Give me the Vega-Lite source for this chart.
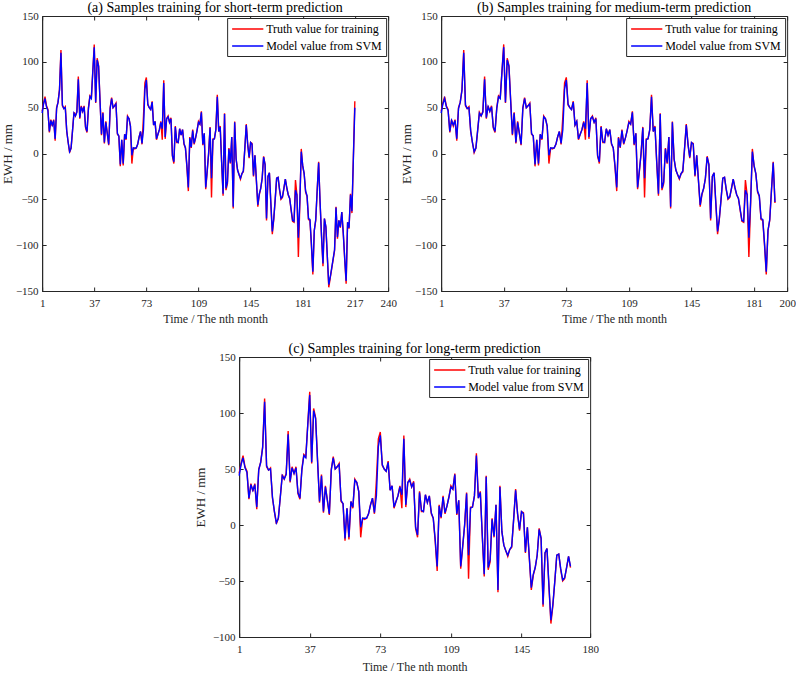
{
"$schema":"https://vega.github.io/schema/vega-lite/v6.json",
"background":"white",
"padding":{"left":0,"top":0,"right":0,"bottom":0},
"data":{"values":[
{"month":1,"truth":46,"model":44},{"month":2,"truth":55,"model":54},{"month":3,"truth":62,"model":60},{"month":4,"truth":52,"model":51},{"month":5,"truth":48,"model":47},{"month":6,"truth":23,"model":24},{"month":7,"truth":37,"model":36},{"month":8,"truth":30,"model":31},{"month":9,"truth":37,"model":36},{"month":10,"truth":14,"model":16},
{"month":11,"truth":50,"model":49},{"month":12,"truth":56,"model":56},{"month":13,"truth":70,"model":69},{"month":14,"truth":113,"model":110},{"month":15,"truth":52,"model":53},{"month":16,"truth":49,"model":49},{"month":17,"truth":51,"model":50},{"month":18,"truth":24,"model":25},{"month":19,"truth":12,"model":12},{"month":20,"truth":1,"model":2},
{"month":21,"truth":6,"model":6},{"month":22,"truth":25,"model":25},{"month":23,"truth":45,"model":44},{"month":24,"truth":41,"model":41},{"month":25,"truth":46,"model":45},{"month":26,"truth":84,"model":81},{"month":27,"truth":38,"model":39},{"month":28,"truth":52,"model":51},{"month":29,"truth":46,"model":46},{"month":30,"truth":52,"model":51},
{"month":31,"truth":28,"model":29},{"month":32,"truth":23,"model":24},{"month":33,"truth":50,"model":49},{"month":34,"truth":63,"model":62},{"month":35,"truth":61,"model":60},{"month":36,"truth":90,"model":89},{"month":37,"truth":119,"model":116},{"month":38,"truth":55,"model":56},{"month":39,"truth":104,"model":102},{"month":40,"truth":96,"model":95},
{"month":41,"truth":58,"model":57},{"month":42,"truth":20,"model":21},{"month":43,"truth":45,"model":44},{"month":44,"truth":11,"model":12},{"month":45,"truth":35,"model":34},{"month":46,"truth":22,"model":22},{"month":47,"truth":9,"model":10},{"month":48,"truth":50,"model":49},{"month":49,"truth":61,"model":60},{"month":50,"truth":50,"model":50},
{"month":51,"truth":52,"model":52},{"month":52,"truth":55,"model":54},{"month":53,"truth":21,"model":22},{"month":54,"truth":19,"model":19},{"month":55,"truth":-14,"model":-12},{"month":56,"truth":15,"model":15},{"month":57,"truth":-13,"model":-11},{"month":58,"truth":21,"model":21},{"month":59,"truth":15,"model":16},{"month":60,"truth":41,"model":40},
{"month":61,"truth":38,"model":38},{"month":62,"truth":30,"model":30},{"month":63,"truth":-11,"model":-2},{"month":64,"truth":6,"model":6},{"month":65,"truth":5,"model":6},{"month":66,"truth":6,"model":6},{"month":67,"truth":10,"model":10},{"month":68,"truth":18,"model":18},{"month":69,"truth":24,"model":24},{"month":70,"truth":10,"model":11},
{"month":71,"truth":40,"model":26},{"month":72,"truth":77,"model":70},{"month":73,"truth":83,"model":80},{"month":74,"truth":53,"model":54},{"month":75,"truth":50,"model":50},{"month":76,"truth":48,"model":48},{"month":77,"truth":57,"model":56},{"month":78,"truth":31,"model":31},{"month":79,"truth":35,"model":35},{"month":80,"truth":15,"model":16},
{"month":81,"truth":21,"model":21},{"month":82,"truth":26,"model":26},{"month":83,"truth":35,"model":34},{"month":84,"truth":15,"model":27},{"month":85,"truth":80,"model":77},{"month":86,"truth":16,"model":18},{"month":87,"truth":38,"model":38},{"month":88,"truth":41,"model":40},{"month":89,"truth":34,"model":34},{"month":90,"truth":39,"model":38},
{"month":91,"truth":-3,"model":-2},{"month":92,"truth":-11,"model":-9},{"month":93,"truth":30,"model":29},{"month":94,"truth":12,"model":13},{"month":95,"truth":12,"model":12},{"month":96,"truth":27,"model":27},{"month":97,"truth":20,"model":20},{"month":98,"truth":26,"model":26},{"month":99,"truth":10,"model":11},{"month":100,"truth":6,"model":6},
{"month":101,"truth":-15,"model":-13},{"month":102,"truth":-41,"model":-37},{"month":103,"truth":18,"model":17},{"month":104,"truth":6,"model":7},{"month":105,"truth":26,"model":25},{"month":106,"truth":10,"model":11},{"month":107,"truth":17,"model":17},{"month":108,"truth":25,"model":25},{"month":109,"truth":35,"model":34},{"month":110,"truth":32,"model":32},
{"month":111,"truth":46,"model":45},{"month":112,"truth":9,"model":10},{"month":113,"truth":22,"model":22},{"month":114,"truth":-39,"model":-37},{"month":115,"truth":-20,"model":-19},{"month":116,"truth":0,"model":0},{"month":117,"truth":29,"model":28},{"month":118,"truth":-48,"model":-27},{"month":119,"truth":16,"model":15},{"month":120,"truth":16,"model":16},
{"month":121,"truth":26,"model":26},{"month":122,"truth":64,"model":62},{"month":123,"truth":24,"model":24},{"month":124,"truth":30,"model":29},{"month":125,"truth":-10,"model":-9},{"month":126,"truth":-46,"model":-44},{"month":127,"truth":44,"model":43},{"month":128,"truth":-40,"model":-38},{"month":129,"truth":-33,"model":-31},{"month":130,"truth":6,"model":5},
{"month":131,"truth":-11,"model":-10},{"month":132,"truth":18,"model":18},{"month":133,"truth":-60,"model":-58},{"month":134,"truth":35,"model":34},{"month":135,"truth":-6,"model":-6},{"month":136,"truth":-18,"model":-18},{"month":137,"truth":-23,"model":-23},{"month":138,"truth":-28,"model":-27},{"month":139,"truth":-22,"model":-22},{"month":140,"truth":-20,"model":-19},
{"month":141,"truth":5,"model":5},{"month":142,"truth":32,"model":31},{"month":143,"truth":10,"model":10},{"month":144,"truth":-5,"model":-4},{"month":145,"truth":12,"model":12},{"month":146,"truth":11,"model":10},{"month":147,"truth":-25,"model":-24},{"month":148,"truth":-2,"model":-2},{"month":149,"truth":-30,"model":-29},{"month":150,"truth":-58,"model":-56},
{"month":151,"truth":-45,"model":-44},{"month":152,"truth":-38,"model":-38},{"month":153,"truth":-27,"model":-27},{"month":154,"truth":-3,"model":-4},{"month":155,"truth":-12,"model":-12},{"month":156,"truth":-73,"model":-71},{"month":157,"truth":-25,"model":-25},{"month":158,"truth":-21,"model":-21},{"month":159,"truth":-55,"model":-54},{"month":160,"truth":-88,"model":-85},
{"month":161,"truth":-72,"model":-71},{"month":162,"truth":-50,"model":-50},{"month":163,"truth":-27,"model":-27},{"month":164,"truth":-26,"model":-26},{"month":165,"truth":-40,"model":-39},{"month":166,"truth":-50,"model":-49},{"month":167,"truth":-48,"model":-47},{"month":168,"truth":-38,"model":-38},{"month":169,"truth":-28,"model":-28},{"month":170,"truth":-38,"model":-37},
{"month":171,"truth":-45,"model":-45},{"month":172,"truth":-49,"model":-49},{"month":173,"truth":-62,"model":-61},{"month":174,"truth":-74,"model":-73},{"month":175,"truth":-75,"model":-74},{"month":176,"truth":-29,"model":-40},{"month":177,"truth":-45,"model":-45},{"month":178,"truth":-113,"model":-92},{"month":179,"truth":-55,"model":-53},{"month":180,"truth":5,"model":2},
{"month":181,"truth":-14,"model":-13},{"month":182,"truth":-22,"model":-22},{"month":183,"truth":-42,"model":-41},{"month":184,"truth":-47,"model":-46},{"month":185,"truth":-72,"model":-71},{"month":186,"truth":-73,"model":-72},{"month":187,"truth":-100,"model":-98},{"month":188,"truth":-132,"model":-129},{"month":189,"truth":-84,"model":-84},{"month":190,"truth":-73,"model":-72},
{"month":191,"truth":-40,"model":-40},{"month":192,"truth":-9,"model":-10},{"month":193,"truth":-54,"model":-53},{"month":194,"truth":-90,"model":-90},{"month":195,"truth":-123,"model":-120},{"month":196,"truth":-71,"model":-71},{"month":197,"truth":-80,"model":-80},{"month":198,"truth":-113,"model":-112},{"month":199,"truth":-146,"model":-143},{"month":200,"truth":-136,"model":-135},
{"month":201,"truth":-126,"model":-125},{"month":202,"truth":-116,"model":-115},{"month":203,"truth":-106,"model":-105},{"month":204,"truth":-58,"model":-59},{"month":205,"truth":-93,"model":-91},{"month":206,"truth":-73,"model":-73},{"month":207,"truth":-81,"model":-80},{"month":208,"truth":-64,"model":-64},{"month":209,"truth":-87,"model":-86},{"month":210,"truth":-115,"model":-114},
{"month":211,"truth":-142,"model":-139},{"month":212,"truth":-75,"model":-75},{"month":213,"truth":-82,"model":-81},{"month":214,"truth":-44,"model":-45},{"month":215,"truth":-65,"model":-63},{"month":216,"truth":-4,"model":-5},{"month":217,"truth":57,"model":50}
]},
"vconcat":[
{"hconcat":[
{"width":346,"height":275,
 "title":{"text":"(a) Samples training for short-term prediction"},
 "transform":[{"filter":"datum.month <= 217"}],
 "layer":[
  {"mark":{"type":"line","strokeWidth":1.4},
   "encoding":{
    "x":{"field":"month","type":"quantitative","scale":{"domain":[1,240],"nice":false,"zero":false},"axis":{"values":[1,37,73,109,145,181,217,240],"title":"Time / The nth month"}},
    "y":{"field":"truth","type":"quantitative","scale":{"domain":[-150,150],"nice":false,"zero":false},"axis":{"values":[-150,-100,-50,0,50,100,150],"title":"EWH / mm"}},
    "color":{"datum":"Truth value for training","scale":{"domain":["Truth value for training","Model value from SVM"],"range":["#ff0000","#0000ff"]},"legend":{"title":null}}}},
  {"mark":{"type":"line","strokeWidth":1.4},
   "encoding":{
    "x":{"field":"month","type":"quantitative","axis":{"orient":"top","values":[1,37,73,109,145,181,217,240],"labels":false,"domain":false,"title":null}},
    "y":{"field":"model","type":"quantitative","axis":{"orient":"right","values":[-150,-100,-50,0,50,100,150],"labels":false,"domain":false,"title":null}},
    "color":{"datum":"Model value from SVM"}}}
 ],
 "resolve":{"axis":{"x":"independent","y":"independent"}}
},
{"width":346,"height":275,
 "title":{"text":"(b) Samples training for medium-term prediction"},
 "transform":[{"filter":"datum.month <= 193"}],
 "layer":[
  {"mark":{"type":"line","strokeWidth":1.4},
   "encoding":{
    "x":{"field":"month","type":"quantitative","scale":{"domain":[1,200],"nice":false,"zero":false},"axis":{"values":[1,37,73,109,145,181,200],"title":"Time / The nth month"}},
    "y":{"field":"truth","type":"quantitative","scale":{"domain":[-150,150],"nice":false,"zero":false},"axis":{"values":[-150,-100,-50,0,50,100,150],"title":"EWH / mm"}},
    "color":{"datum":"Truth value for training","scale":{"domain":["Truth value for training","Model value from SVM"],"range":["#ff0000","#0000ff"]},"legend":{"title":null}}}},
  {"mark":{"type":"line","strokeWidth":1.4},
   "encoding":{
    "x":{"field":"month","type":"quantitative","axis":{"orient":"top","values":[1,37,73,109,145,181,200],"labels":false,"domain":false,"title":null}},
    "y":{"field":"model","type":"quantitative","axis":{"orient":"right","values":[-150,-100,-50,0,50,100,150],"labels":false,"domain":false,"title":null}},
    "color":{"datum":"Model value from SVM"}}}
 ],
 "resolve":{"axis":{"x":"independent","y":"independent"}}
}
],
"spacing":2,
"resolve":{"scale":{"color":"independent"}}
},
{"width":351,"height":280,
 "title":{"text":"(c) Samples training for long-term prediction"},
 "transform":[{"filter":"datum.month <= 170"}],
 "layer":[
  {"mark":{"type":"line","strokeWidth":1.4},
   "encoding":{
    "x":{"field":"month","type":"quantitative","scale":{"domain":[1,180],"nice":false,"zero":false},"axis":{"values":[1,37,73,109,145,180],"title":"Time / The nth month","titlePadding":7}},
    "y":{"field":"truth","type":"quantitative","scale":{"domain":[-100,150],"nice":false,"zero":false},"axis":{"values":[-100,-50,0,50,100,150],"title":"EWH / mm","titlePadding":5}},
    "color":{"datum":"Truth value for training","scale":{"domain":["Truth value for training","Model value from SVM"],"range":["#ff0000","#0000ff"]},"legend":{"title":null}}}},
  {"mark":{"type":"line","strokeWidth":1.4},
   "encoding":{
    "x":{"field":"month","type":"quantitative","axis":{"orient":"top","values":[1,37,73,109,145,180],"labels":false,"domain":false,"title":null}},
    "y":{"field":"model","type":"quantitative","axis":{"orient":"right","values":[-100,-50,0,50,100,150],"labels":false,"domain":false,"title":null}},
    "color":{"datum":"Model value from SVM"}}}
 ],
 "resolve":{"axis":{"x":"independent","y":"independent"}}
}
],
"spacing":16,
"center":true,
"resolve":{"scale":{"color":"independent"}},
"config":{
 "view":{"stroke":"#262626","strokeWidth":1},
 "title":{"font":"Liberation Serif","fontSize":14,"fontWeight":"normal","color":"#000000","frame":"group","anchor":"middle","offset":-5},
 "axis":{"labelFont":"Liberation Serif","labelFontSize":11,"labelColor":"#262626","titleFont":"Liberation Serif","titleFontWeight":"normal","titleColor":"#262626","domainColor":"#262626","tickColor":"#262626","tickSize":-4,"grid":false,"labelFlush":false,"labelOverlap":false,"labelBound":false},
 "axisX":{"labelPadding":10,"titlePadding":5,"titleFontSize":12},
 "axisY":{"labelPadding":8,"titlePadding":1,"titleFontSize":13},
 "legend":{"orient":"top-right","offset":2,"fillColor":"white","strokeColor":"#262626","padding":4,"labelFont":"Liberation Serif","labelFontSize":12,"labelColor":"#000000","symbolType":"M -1,0 L 4.2,0","symbolSize":144,"symbolStrokeWidth":1.5,"rowPadding":4,"labelOffset":21}
}
}
